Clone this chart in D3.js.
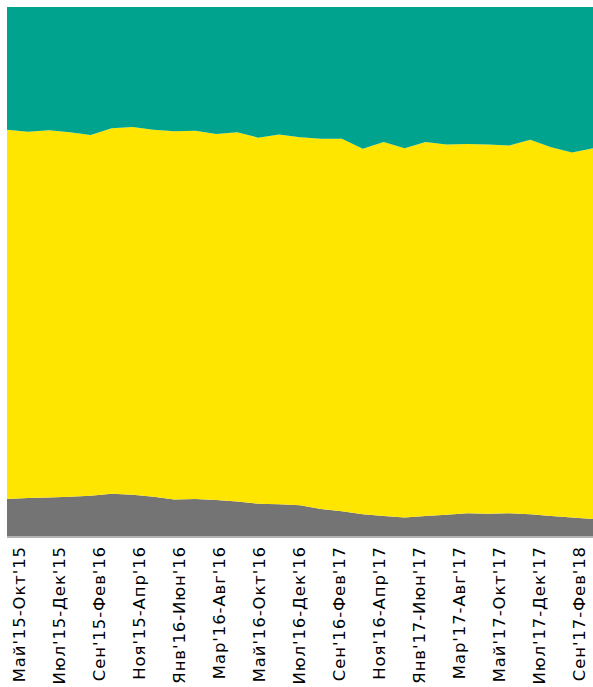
<!DOCTYPE html>
<html>
<head>
<meta charset="utf-8">
<script src="https://cdn.jsdelivr.net/npm/d3@7"></script>
<style>
  body { margin: 0; background: #fff; }
  .tick-label { font-family: "DejaVu Sans", Verdana, sans-serif; font-size: 16.5px; letter-spacing: 0.9px; fill: #000; }
</style>
</head>
<body>
<div id="chart"></div>
<script>
// rolling 6-month periods
var periods = ["Май'15-Окт'15", "Июн'15-Ноя'15", "Июл'15-Дек'15", "Авг'15-Янв'16", "Сен'15-Фев'16",
  "Окт'15-Мар'16", "Ноя'15-Апр'16", "Дек'15-Май'16", "Янв'16-Июн'16", "Фев'16-Июл'16",
  "Мар'16-Авг'16", "Апр'16-Сен'16", "Май'16-Окт'16", "Июн'16-Ноя'16", "Июл'16-Дек'16",
  "Авг'16-Янв'17", "Сен'16-Фев'17", "Окт'16-Мар'17", "Ноя'16-Апр'17", "Дек'16-Май'17",
  "Янв'17-Июн'17", "Фев'17-Июл'17", "Мар'17-Авг'17", "Апр'17-Сен'17", "Май'17-Окт'17",
  "Июн'17-Ноя'17", "Июл'17-Дек'17", "Авг'17-Янв'18", "Сен'17-Фев'18"]

// shares, %
var bottomShare = [7.0, 7.2, 7.3, 7.4, 7.6, 8.0, 7.8, 7.4, 6.9, 7.0,
  6.8, 6.5, 6.1, 6.0, 5.8, 5.1, 4.7, 4.1, 3.8, 3.5,
  3.8, 4.0, 4.3, 4.2, 4.3, 4.1, 3.8, 3.5, 3.2]
var topShare = [23.2, 23.6, 23.3, 23.7, 24.2, 22.9, 22.7, 23.2, 23.5, 23.4,
  24.0, 23.7, 24.7, 24.1, 24.6, 24.9, 24.9, 26.8, 25.5, 26.7,
  25.5, 26.0, 25.9, 26.0, 26.2, 25.1, 26.5, 27.5, 26.7]
var middleShare = bottomShare.map(function(d, i) { return +(100 - d - topShare[i]).toFixed(1) })

var labels = periods.filter(function(d, i) { return i % 2 === 0 })

var keys = ["bottom", "middle", "top"]
var colors = { bottom: "#747474", middle: "#ffe600", top: "#00a38d" }

var margin = { top: 7, left: 7, right: 0, bottom: 151 }
var width = 593 - margin.left - margin.right
var height = 687 - margin.top - margin.bottom

var svg = d3.select("#chart")
  .append("svg")
  .attr("width", 593)
  .attr("height", 687)

var g = svg.append("g")
  .attr("transform", "translate(" + margin.left + "," + margin.top + ")")

var table = periods.map(function(p, i) {
  return { period: p, bottom: bottomShare[i], middle: middleShare[i], top: topShare[i] }
})

var stack = d3.stack().keys(keys)
var series = stack(table)

var x = d3.scalePoint().domain(periods).range([0, width])
var y = d3.scaleLinear().domain([0, 100]).range([height, 0])

var area = d3.area()
  .x(function(d) { return x(d.data.period) })
  .y0(function(d) { return y(d[0]) })
  .y1(function(d) { return y(d[1]) })

g.selectAll(".layer")
  .data(series)
  .enter().append("path")
  .attr("class", "layer")
  .attr("d", area)
  .style("fill", function(d) { return colors[d.key] })

// baseline
g.append("line")
  .attr("x1", 0).attr("x2", width)
  .attr("y1", height + 1).attr("y2", height + 1)
  .style("stroke", "#b3b3b3")
  .style("stroke-width", 2)

// category labels sit on their own even grid under the plot
var lx = d3.scalePoint().domain(labels).range([19.3, 579.3])

svg.selectAll(".tick-label")
  .data(labels)
  .enter().append("text")
  .attr("class", "tick-label")
  .attr("transform", function(d) { return "translate(" + lx(d) + "," + 546 + ") rotate(-90)" })
  .attr("dy", "0.36em")
  .attr("text-anchor", "end")
  .text(function(d) { return d })
</script>
</body>
</html>
